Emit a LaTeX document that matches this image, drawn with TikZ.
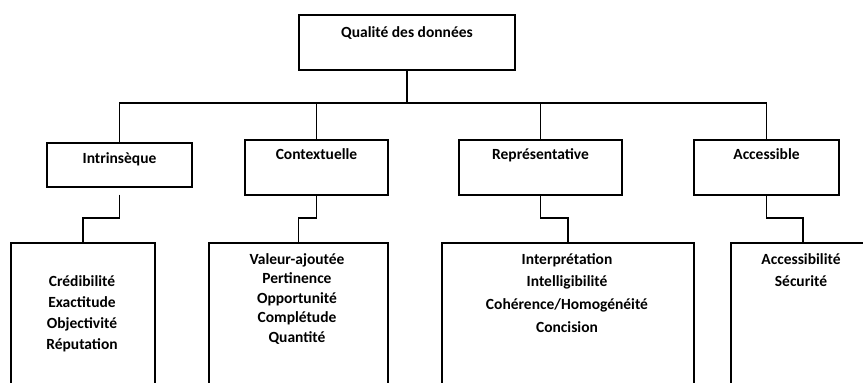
\documentclass[tikz,border=0pt]{standalone}
\usepackage{fontspec}
\setmainfont{Carlito}
\usepackage{tikz}

\begin{document}
\begin{tikzpicture}[x=1pt,y=-1pt,line width=1.6pt,
  box/.style={draw,rectangle,inner sep=0pt,anchor=north},
  liste/.style={align=center,inner sep=0pt,anchor=north}]
\useasboundingbox (0,0) rectangle (863,383);
\clip (0,0) rectangle (863,383);
\fontsize{15.5pt}{20pt}\bfseries

% niveau 0
\node [box, minimum width=216pt, text height=23pt, text depth=32pt] (qual) at (407,14) {Qualité des données};

% niveau 1
\node [box, minimum width=145pt, text height=21pt, text depth=23pt] (intr) at (119.5,142) {Intrinsèque};
\node [box, minimum width=143pt, text height=20pt, text depth=35pt] (cont) at (316.5,139) {Contextuelle};
\node [box, minimum width=163pt, text height=20pt, text depth=35pt] (repr) at (540.5,139) {Représentative};
\node [box, minimum width=145pt, text height=20pt, text depth=35pt] (acces) at (766.5,139) {Accessible};

% niveau 2
\node [box, minimum width=144pt, minimum height=170pt] (intrl) at (83,242) {};
\node [box, minimum width=179pt, minimum height=170pt] (contl) at (298.5,242) {};
\node [box, minimum width=252pt, minimum height=170pt] (reprl) at (568,242) {};
\node [box, minimum width=144pt, minimum height=170pt] (accesl) at (803,242) {};

\node [liste] (intrt) at (82,274.5) {Crédibilité\\[1pt] Exactitude\\[1pt] Objectivité\\[1pt] Réputation};
\node [liste] (contt) at (297,252.5) {Valeur-ajoutée\\[-0.5pt] Pertinence\\[-0.5pt] Opportunité\\[-0.5pt] Complétude\\[-0.5pt] Quantité};
\node [liste] (reprt) at (567,252.5) {Interprétation\\[2.7pt] Intelligibilité\\[2.7pt] Cohérence/Homogénéité\\[2.7pt] Concision};
\node [liste] (accest) at (801,252.5) {Accessibilité\\[2pt] Sécurité};

% liaisons
\coordinate (bus) at (407,103);
\coordinate (coude) at (0,218);
\draw (qual.south) -- (bus);
\draw (intr.north) -- (intr.north |- bus) -- (acces.north |- bus) -- (acces.north);
\draw (cont.north) -- (cont.north |- bus);
\draw (repr.north) -- (repr.north |- bus);

\draw ([yshift=-7pt]intr.south) -- (intr.south |- coude) -| (intrl.north);
\draw (cont.south) -- (cont.south |- coude) -| (contl.north);
\draw (repr.south) -- (repr.south |- coude) -| (reprl.north);
\draw (acces.south) -- (acces.south |- coude) -| (accesl.north);
\end{tikzpicture}
\end{document}
